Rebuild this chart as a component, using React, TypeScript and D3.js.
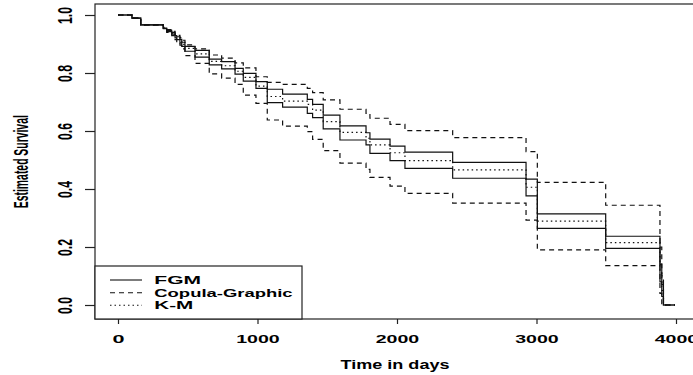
import React, { useEffect, useRef } from 'react';
import * as d3 from 'd3';

// step times (days) shared by all curves; value i holds from days[i] to days[i+1]
const days = [
  0, 100, 163, 325, 349, 385, 409, 421, 444, 457, 480, 552, 654, 743, 839, 898, 989, 1070,
  1180, 1357, 1395, 1471, 1591, 1778, 1806, 1950, 2057, 2399, 2925, 3006, 3496, 3885, 3898,
  3910, 3993,
];

const kmSurv = [
  1.0, 0.989, 0.966, 0.954, 0.945, 0.937, 0.925, 0.92, 0.91, 0.899, 0.885, 0.866, 0.84, 0.825,
  0.806, 0.785, 0.755, 0.719, 0.703, 0.692, 0.672, 0.632, 0.595, 0.575, 0.552, 0.525, 0.498,
  0.466, 0.406, 0.289, 0.215, 0.11, 0.05, 0, 0,
];

const fgmUpper = [
  1.0, 0.989, 0.966, 0.955, 0.947, 0.94, 0.929, 0.925, 0.916, 0.906, 0.892, 0.878, 0.848, 0.839,
  0.816, 0.799, 0.77, 0.744, 0.727, 0.709, 0.692, 0.655, 0.618, 0.594, 0.572, 0.548, 0.527,
  0.492, 0.434, 0.314, 0.237, 0.14, 0.07, 0, 0,
];

const fgmLower = [
  1.0, 0.989, 0.966, 0.953, 0.943, 0.934, 0.921, 0.915, 0.904, 0.892, 0.875, 0.855, 0.828, 0.814,
  0.796, 0.772, 0.747, 0.698, 0.682, 0.661, 0.646, 0.607, 0.569, 0.552, 0.523, 0.498, 0.471,
  0.437, 0.376, 0.264, 0.195, 0.08, 0.03, 0, 0,
];

const copulaUpper = [
  1.0, 0.989, 0.967, 0.957, 0.95, 0.944, 0.934, 0.93, 0.922, 0.913, 0.897, 0.883, 0.862, 0.851,
  0.835, 0.818, 0.787, 0.768, 0.761, 0.747, 0.732, 0.707, 0.675, 0.661, 0.644, 0.623, 0.601,
  0.577, 0.529, 0.423, 0.344, 0.2, 0.1, 0, 0,
];

const copulaLower = [
  1.0, 0.989, 0.965, 0.951, 0.94, 0.929, 0.915, 0.908, 0.896, 0.883, 0.86, 0.833, 0.797, 0.782,
  0.761, 0.724, 0.695, 0.638, 0.617, 0.598, 0.571, 0.532, 0.489, 0.468, 0.44, 0.41, 0.385,
  0.351, 0.293, 0.19, 0.136, 0.04, 0, 0, 0,
];

const xTicks = [0, 1000, 2000, 3000, 4000];
const yTicks = [0, 0.2, 0.4, 0.6, 0.8, 1.0];
const legendLabels = ['FGM', 'Copula-Graphic', 'K-M'];

const FONT = '"Liberation Sans", Arial, sans-serif';
const INK = '#222';

export default function App() {
  const svgRef = useRef<SVGSVGElement>(null);

  useEffect(() => {
    const svg = d3.select(svgRef.current);
    svg.selectAll('*').remove();

    const box = { left: 95, top: 4, right: 700, bottom: 319 };
    const x = d3.scaleLinear().domain([0, 4000]).range([118, 676]);
    const y = d3.scaleLinear().domain([0, 1]).range([305, 15]);

    // curves
    const line = d3
      .line<number>()
      .x((_, i) => x(days[i]))
      .y((d) => y(d))
      .curve(d3.curveStepAfter);

    const curves = [
      { vals: fgmUpper, dash: null },
      { vals: fgmLower, dash: null },
      { vals: copulaUpper, dash: '5,4' },
      { vals: copulaLower, dash: '5,4' },
      { vals: kmSurv, dash: '1.5,3' },
    ];

    svg
      .append('g')
      .selectAll('path')
      .data(curves)
      .enter()
      .append('path')
      .attr('d', (c) => line(c.vals))
      .attr('fill', 'none')
      .attr('stroke', '#111')
      .attr('stroke-width', 1.2)
      .attr('stroke-dasharray', (c) => c.dash);

    // plot box
    svg
      .append('rect')
      .attr('x', box.left)
      .attr('y', box.top)
      .attr('width', box.right - box.left)
      .attr('height', box.bottom - box.top)
      .attr('fill', 'none')
      .attr('stroke', INK)
      .attr('stroke-width', 1.2);

    // x axis
    const gx = svg
      .append('g')
      .attr('transform', `translate(0,${box.bottom})`)
      .call(d3.axisBottom(x).tickValues(xTicks).tickSize(5).tickFormat(d3.format('d')));
    gx.select('.domain').remove();
    gx.selectAll('line').attr('stroke', INK).attr('stroke-width', 1.2);
    gx.selectAll('text')
      .attr('y', 23.7)
      .attr('dy', 0)
      .attr('fill', '#000')
      .style('font-family', FONT)
      .style('font-size', '11px')
      .style('font-weight', 'bold')
      .attr('textLength', (d: any) => (d === 0 ? 12 : 43.5))
      .attr('lengthAdjust', 'spacingAndGlyphs');

    // y axis, labels rotated like base R
    const gy = svg
      .append('g')
      .attr('transform', `translate(${box.left},0)`)
      .call(d3.axisLeft(y).tickValues(yTicks).tickSize(10).tickFormat(d3.format('.1f')));
    gy.select('.domain').remove();
    gy.selectAll('line').attr('stroke', INK).attr('stroke-width', 1.2);
    gy.selectAll('text')
      .attr('x', 0)
      .attr('y', 0)
      .attr('dy', 0)
      .attr('text-anchor', 'middle')
      .attr('transform', `translate(${71.7 - box.left},0) scale(1.85,1) rotate(-90)`)
      .attr('fill', '#000')
      .style('font-family', FONT)
      .style('font-size', '11px')
      .style('font-weight', 'bold')
      .attr('textLength', 17)
      .attr('lengthAdjust', 'spacingAndGlyphs');

    // axis titles
    svg
      .append('text')
      .attr('x', 395)
      .attr('y', 369)
      .attr('text-anchor', 'middle')
      .style('font-family', FONT)
      .style('font-size', '12.5px')
      .style('font-weight', 'bold')
      .attr('textLength', 109)
      .attr('lengthAdjust', 'spacingAndGlyphs')
      .text('Time in days');

    svg
      .append('text')
      .attr('transform', 'translate(28.3,161.7) scale(1.85,1) rotate(-90)')
      .attr('text-anchor', 'middle')
      .style('font-family', FONT)
      .style('font-size', '11px')
      .style('font-weight', 'bold')
      .attr('textLength', 93)
      .attr('lengthAdjust', 'spacingAndGlyphs')
      .text('Estimated Survival');

    // legend
    const leg = svg.append('g');
    leg
      .append('rect')
      .attr('x', box.left)
      .attr('y', 266)
      .attr('width', 207)
      .attr('height', box.bottom - 266)
      .attr('fill', '#fff')
      .attr('stroke', INK)
      .attr('stroke-width', 1.2);

    const legDash = [null, '5,4', '1.5,3'];
    const legWidths = [46.7, 138.3, 39];
    const legY = [280, 292.7, 305.2];

    legendLabels.forEach((label, i) => {
      leg
        .append('line')
        .attr('x1', 110)
        .attr('x2', 142)
        .attr('y1', legY[i])
        .attr('y2', legY[i])
        .attr('stroke', '#111')
        .attr('stroke-width', 1.1)
        .attr('stroke-dasharray', legDash[i]);
      leg
        .append('text')
        .attr('x', 154.3)
        .attr('y', legY[i] + 3.8)
        .style('font-family', FONT)
        .style('font-size', '10.5px')
        .style('font-weight', 'bold')
        .attr('textLength', legWidths[i])
        .attr('lengthAdjust', 'spacingAndGlyphs')
        .text(label);
    });
  }, []);

  return (
    <svg
      ref={svgRef}
      width={693}
      height={375}
      style={{ position: 'absolute', left: 0, top: 0, background: '#fff' }}
    />
  );
}
